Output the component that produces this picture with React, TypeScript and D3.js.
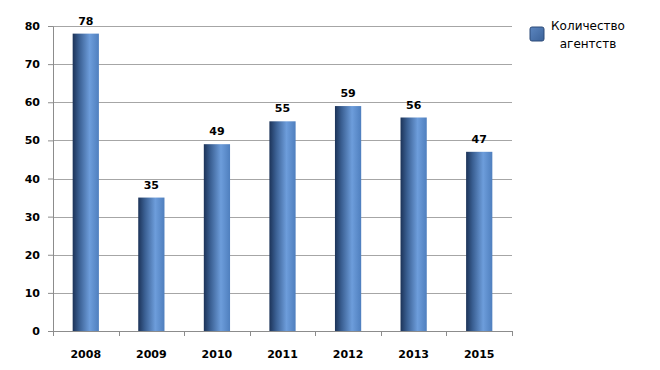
import React, { useEffect, useRef } from 'react';
import * as d3 from 'd3';

const years = ['2008', '2009', '2010', '2011', '2012', '2013', '2015'];
const agencies = [78, 35, 49, 55, 59, 56, 47];
const yTicks = [0, 10, 20, 30, 40, 50, 60, 70, 80];
const legendLines = ['Количество', 'агентств'];

export default function App() {
  const svgRef = useRef<SVGSVGElement>(null);

  useEffect(() => {
    if (!svgRef.current) return;
    const svg = d3.select(svgRef.current);
    svg.selectAll('*').remove();

    const margin = { top: 26, left: 53, right: 148, bottom: 39 };
    const width = 660 - margin.left - margin.right;
    const height = 370 - margin.top - margin.bottom;

    const defs = svg.append('defs');
    const grad = defs.append('linearGradient')
      .attr('id', 'barGrad')
      .attr('x1', '0%').attr('x2', '100%')
      .attr('y1', '0%').attr('y2', '0%');
    grad.append('stop').attr('offset', '0%').attr('stop-color', '#1c3358');
    grad.append('stop').attr('offset', '25%').attr('stop-color', '#3a5f92');
    grad.append('stop').attr('offset', '65%').attr('stop-color', '#6d9ddb');
    grad.append('stop').attr('offset', '100%').attr('stop-color', '#4f7fbe');

    const lgrad = defs.append('linearGradient')
      .attr('id', 'legGrad')
      .attr('x1', '0%').attr('x2', '100%')
      .attr('y1', '0%').attr('y2', '100%');
    lgrad.append('stop').attr('offset', '0%').attr('stop-color', '#5c86c0');
    lgrad.append('stop').attr('offset', '100%').attr('stop-color', '#3b6299');

    const g = svg.append('g').attr('transform', `translate(${margin.left},${margin.top})`);

    const x = d3.scaleBand().domain(years).range([0, width]).paddingInner(0.6).paddingOuter(0.3);
    const xOuter = d3.scaleBand().domain(years).range([0, width]);
    const y = d3.scaleLinear().domain([0, 80]).range([height, 0]);

    // grid
    g.append('g')
      .selectAll('line')
      .data(yTicks.filter(t => t > 0))
      .join('line')
      .attr('x1', 0).attr('x2', width)
      .attr('y1', d => Math.round(y(d)) + 0.5).attr('y2', d => Math.round(y(d)) + 0.5)
      .attr('stroke', '#a6a6a6');

    // bars
    g.append('g')
      .selectAll('rect')
      .data(agencies)
      .join('rect')
      .attr('x', (_, i) => x(years[i])!)
      .attr('y', d => y(d))
      .attr('width', x.bandwidth())
      .attr('height', d => height - y(d))
      .attr('fill', 'url(#barGrad)');

    // value labels
    g.append('g')
      .selectAll('text')
      .data(agencies)
      .join('text')
      .attr('x', (_, i) => x(years[i])! + x.bandwidth() / 2)
      .attr('y', d => y(d) - 9)
      .attr('text-anchor', 'middle')
      .attr('font-family', 'DejaVu Sans, sans-serif')
      .attr('font-size', 11)
      .attr('font-weight', 'bold')
      .attr('fill', '#000')
      .text(d => d);

    // y axis
    const yAxis = g.append('g')
      .call(d3.axisLeft(y).tickValues(yTicks).tickSize(5).tickPadding(8).tickSizeOuter(0));
    yAxis.select('.domain').attr('stroke', '#8c8c8c');
    yAxis.selectAll('line').attr('stroke', '#8c8c8c');
    yAxis.selectAll('text')
      .attr('font-family', 'DejaVu Sans, sans-serif')
      .attr('font-size', 11)
      .attr('font-weight', 'bold')
      .attr('fill', '#000');

    // x axis
    const xAxisG = g.append('g').attr('transform', `translate(0,${height})`);
    xAxisG.append('line')
      .attr('x1', 0).attr('x2', width)
      .attr('y1', 0.5).attr('y2', 0.5)
      .attr('stroke', '#8c8c8c');
    xAxisG.selectAll('line.tick')
      .data([...years.map(yr => xOuter(yr)!), width])
      .join('line')
      .attr('class', 'tick')
      .attr('x1', d => Math.round(d) + 0.5).attr('x2', d => Math.round(d) + 0.5)
      .attr('y1', 0).attr('y2', 5)
      .attr('stroke', '#8c8c8c');
    xAxisG.selectAll('text')
      .data(years)
      .join('text')
      .attr('x', d => x(d)! + x.bandwidth() / 2)
      .attr('y', 27)
      .attr('text-anchor', 'middle')
      .attr('font-family', 'DejaVu Sans, sans-serif')
      .attr('font-size', 11)
      .attr('font-weight', 'bold')
      .attr('fill', '#000')
      .text(d => d);

    // legend
    const leg = svg.append('g');
    leg.append('rect')
      .attr('x', 530).attr('y', 27)
      .attr('width', 14).attr('height', 14)
      .attr('rx', 2)
      .attr('fill', 'url(#legGrad)')
      .attr('stroke', '#2c4a78');
    leg.selectAll('text')
      .data(legendLines)
      .join('text')
      .attr('x', 588)
      .attr('y', (_, i) => 30 + i * 18)
      .attr('text-anchor', 'middle')
      .attr('font-family', 'DejaVu Sans, sans-serif')
      .attr('font-size', 12)
      .attr('fill', '#000')
      .text(d => d);
  }, []);

  return (
    <svg
      ref={svgRef}
      width={660}
      height={370}
      style={{ position: 'absolute', left: 0, top: 0, display: 'block', background: '#fff' }}
    />
  );
}
